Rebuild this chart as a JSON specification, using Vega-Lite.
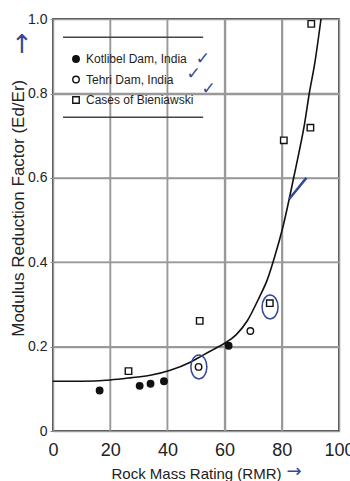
{
  "$schema": "https://vega.github.io/schema/vega-lite/v6.json",
  "width": 286,
  "height": 412,
  "autosize": {"type": "none"},
  "padding": {"left": 53, "top": 19, "right": 11, "bottom": 50},
  "background": "white",
  "config": {
    "view": {"stroke": "#111", "strokeWidth": 1.5},
    "axis": {"labelColor": "#222", "titleColor": "#222", "domain": false, "titleFontWeight": "normal", "grid": true, "gridColor": "#999999", "gridWidth": 1.5},
    "font": "Liberation Sans"
  },
  "datasets": {
    "vgrid": [
      {"rmr": 20, "f": 0, "f2": 1}, {"rmr": 40, "f": 0, "f2": 1},
      {"rmr": 60, "f": 0, "f2": 1}, {"rmr": 80, "f": 0, "f2": 1}
    ],
    "hgrid": [
      {"rmr": 0, "rmr2": 100, "f": 0.2}, {"rmr": 0, "rmr2": 100, "f": 0.4},
      {"rmr": 0, "rmr2": 100, "f": 0.6}, {"rmr": 0, "rmr2": 100, "f": 0.8}
    ],
    "points": [
      {"rmr": 16.3, "f": 0.096, "series": "Kotlibel Dam, India"},
      {"rmr": 30.3, "f": 0.107, "series": "Kotlibel Dam, India"},
      {"rmr": 34.1, "f": 0.112, "series": "Kotlibel Dam, India"},
      {"rmr": 38.8, "f": 0.118, "series": "Kotlibel Dam, India"},
      {"rmr": 61.4, "f": 0.202, "series": "Kotlibel Dam, India"},
      {"rmr": 50.9, "f": 0.152, "series": "Tehri Dam, India"},
      {"rmr": 69.0, "f": 0.237, "series": "Tehri Dam, India"},
      {"rmr": 26.4, "f": 0.142, "series": "Cases of Bieniawski"},
      {"rmr": 51.3, "f": 0.261, "series": "Cases of Bieniawski"},
      {"rmr": 75.8, "f": 0.303, "series": "Cases of Bieniawski"},
      {"rmr": 80.7, "f": 0.689, "series": "Cases of Bieniawski"},
      {"rmr": 90.0, "f": 0.719, "series": "Cases of Bieniawski"},
      {"rmr": 90.3, "f": 0.987, "series": "Cases of Bieniawski"}
    ],
    "curve": [
      {"rmr": 0, "f": 0.118}, {"rmr": 10, "f": 0.118}, {"rmr": 20, "f": 0.121},
      {"rmr": 27, "f": 0.126}, {"rmr": 34, "f": 0.132}, {"rmr": 41, "f": 0.144},
      {"rmr": 48, "f": 0.163}, {"rmr": 52, "f": 0.178}, {"rmr": 56, "f": 0.193},
      {"rmr": 60, "f": 0.208}, {"rmr": 64, "f": 0.228}, {"rmr": 68, "f": 0.262},
      {"rmr": 72, "f": 0.315}, {"rmr": 75, "f": 0.36}, {"rmr": 77.5, "f": 0.413},
      {"rmr": 80.4, "f": 0.484}, {"rmr": 82.5, "f": 0.547}, {"rmr": 84.2, "f": 0.602},
      {"rmr": 86, "f": 0.66}, {"rmr": 88, "f": 0.73}, {"rmr": 89.6, "f": 0.8},
      {"rmr": 91.5, "f": 0.88}, {"rmr": 93.7, "f": 1.0}
    ],
    "circled": [
      {"rmr": 51.0, "f": 0.152},
      {"rmr": 75.9, "f": 0.294}
    ],
    "checks": [
      {"rmr": 52.4, "f": 0.893},
      {"rmr": 49.2, "f": 0.852},
      {"rmr": 54.4, "f": 0.811}
    ],
    "legendlines": [
      {"rmr": 3.5, "rmr2": 52.5, "f": 0.951},
      {"rmr": 3.5, "rmr2": 52.5, "f": 0.744}
    ],
    "pen": [
      {"rmr": 88.6, "rmr2": 82.6, "f": 0.6, "f2": 0.55}
    ],
    "ytitle": [
      {"rmr": -11.9, "f": 0.528, "label": "Modulus Reduction Factor (Ed/Er)"}
    ],
    "uparrow": [
      {"rmr": -10.9, "f": 0.93, "label": "↑"}
    ],
    "rightarrow": [
      {"rmr": 84.3, "f": -0.097, "label": "→"}
    ]
  },
  "encoding": {
    "x": {"field": "rmr", "type": "quantitative", "scale": {"domain": [0, 100], "nice": false, "zero": false},
      "axis": {"values": [0, 20, 40, 60, 80, 100], "grid": true, "labelFontSize": 18, "ticks": false, "labelPadding": 10, "labelFlush": false,
        "title": "Rock Mass Rating (RMR)", "titleFontSize": 15, "titleY": 47, "titleBaseline": "alphabetic"}},
    "y": {"field": "f", "type": "quantitative", "scale": {"domain": [0, 0.8, 1.0], "range": [412, 74.5, 0], "nice": false, "zero": false},
      "axis": {"values": [0, 0.2, 0.4, 0.6, 0.8, 1.0], "grid": true, "labelExpr": "datum.value == 0 ? '0' : format(datum.value, '.1f')", "labelFontSize": 14, "tickSize": 3, "labelPadding": 3,
        "title": null}}
  },
  "layer": [
    {
      "data": {"name": "vgrid"},
      "mark": {"type": "rule", "color": "#999999", "strokeWidth": 1.5},
      "encoding": {"y2": {"field": "f2"}}
    },
    {
      "data": {"name": "hgrid"},
      "mark": {"type": "rule", "color": "#999999", "strokeWidth": 1.5},
      "encoding": {"x2": {"field": "rmr2"}}
    },
    {
      "data": {"name": "curve"},
      "mark": {"type": "line", "color": "#111", "strokeWidth": 1.6, "interpolate": "monotone"}
    },
    {
      "data": {"name": "points"},
      "mark": {"type": "point", "strokeWidth": 1.4, "size": 42, "opacity": 1},
      "encoding": {
        "shape": {"field": "series", "type": "nominal", "scale": {"domain": ["Kotlibel Dam, India", "Tehri Dam, India", "Cases of Bieniawski"], "range": ["circle", "circle", "square"]},
          "legend": {"orient": "none", "legendX": 17, "legendY": 34, "title": null, "padding": 0, "labelFontSize": 12, "labelColor": "#222", "symbolSize": 42, "symbolStrokeWidth": 1.4, "rowPadding": 6.5, "labelOffset": 4}},
        "fill": {"field": "series", "type": "nominal", "scale": {"domain": ["Kotlibel Dam, India", "Tehri Dam, India", "Cases of Bieniawski"], "range": ["#111", "#ffffff", "#ffffff"]},
          "legend": {"orient": "none", "legendX": 17, "legendY": 34, "title": null, "padding": 0, "labelFontSize": 12, "labelColor": "#222", "symbolSize": 42, "symbolStrokeWidth": 1.4, "rowPadding": 6.5, "labelOffset": 4}},
        "stroke": {"field": "series", "type": "nominal", "scale": {"domain": ["Kotlibel Dam, India", "Tehri Dam, India", "Cases of Bieniawski"], "range": ["#111", "#111", "#111"]},
          "legend": {"orient": "none", "legendX": 17, "legendY": 34, "title": null, "padding": 0, "labelFontSize": 12, "labelColor": "#222", "symbolSize": 42, "symbolStrokeWidth": 1.4, "rowPadding": 6.5, "labelOffset": 4}}
      }
    },
    {
      "data": {"name": "legendlines"},
      "mark": {"type": "rule", "color": "#444", "strokeWidth": 1.5},
      "encoding": {"x2": {"field": "rmr2"}}
    },
    {
      "data": {"name": "circled"},
      "mark": {"type": "point", "shape": "M0,-1A0.667,1,0,1,1,0,1A0.667,1,0,1,1,0,-1Z", "size": 576, "filled": false, "stroke": "#34489a", "strokeWidth": 1.5, "opacity": 1}
    },
    {
      "data": {"name": "checks"},
      "mark": {"type": "text", "text": "✓", "font": "DejaVu Sans", "fontSize": 17, "color": "#34489a"}
    },
    {
      "data": {"name": "pen"},
      "mark": {"type": "rule", "color": "#34489a", "strokeWidth": 2.5},
      "encoding": {"x2": {"field": "rmr2"}, "y2": {"field": "f2"}}
    },
    {
      "data": {"name": "ytitle"},
      "mark": {"type": "text", "font": "Liberation Sans", "fontSize": 17, "color": "#222", "angle": 270, "align": "center", "baseline": "middle"},
      "encoding": {"text": {"field": "label"}}
    },
    {
      "data": {"name": "uparrow"},
      "mark": {"type": "text", "font": "DejaVu Sans", "fontSize": 26, "color": "#34489a"},
      "encoding": {"text": {"field": "label"}}
    },
    {
      "data": {"name": "rightarrow"},
      "mark": {"type": "text", "font": "DejaVu Sans", "fontSize": 18, "color": "#34489a"},
      "encoding": {"text": {"field": "label"}}
    }
  ]
}
